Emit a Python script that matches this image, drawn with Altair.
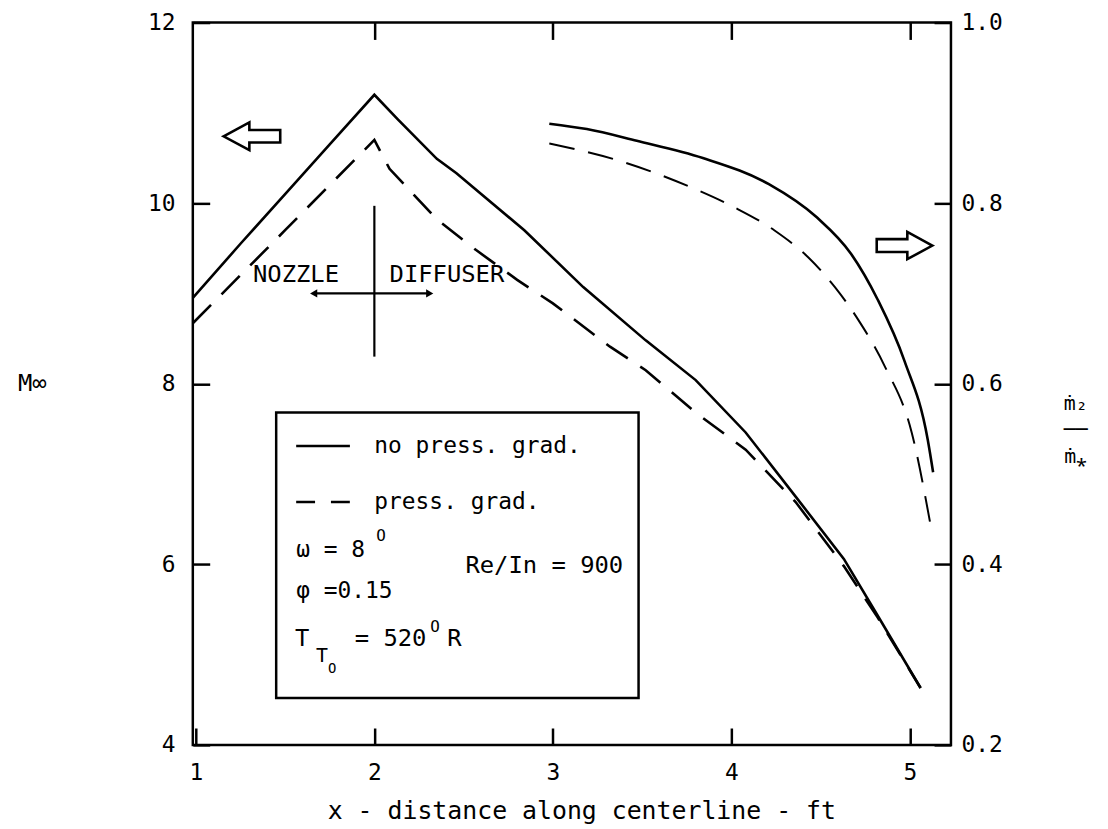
import altair as alt
import pandas as pd

FONT = "DejaVu Sans Mono"

# ---- data ----
# Free-stream Mach number (left axis)
x_m_solid = [0.983, 1.25, 1.5, 1.75, 2.0, 2.13, 2.35, 2.46, 2.84, 3.17, 3.52, 3.80, 4.08, 4.36, 4.63, 4.82, 5.06]
m_solid = [8.95, 9.55, 10.1, 10.65, 11.2, 10.93, 10.49, 10.33, 9.70, 9.07, 8.48, 8.04, 7.46, 6.75, 6.06, 5.43, 4.63]
x_m_dash = [0.983, 1.5, 2.0, 2.085, 2.35, 2.57, 2.80, 3.00, 3.32, 3.52, 3.80, 4.08, 4.36, 4.63, 4.82, 5.06]
m_dash = [8.67, 9.70, 10.70, 10.38, 9.82, 9.48, 9.15, 8.89, 8.41, 8.15, 7.68, 7.27, 6.69, 5.98, 5.41, 4.63]

# Mass-flow ratio (right axis)
x_r_solid = [2.98, 3.19, 3.47, 3.84, 4.21, 4.48, 4.67, 4.82, 4.97, 5.10, 5.13]
r_solid = [0.888, 0.882, 0.869, 0.850, 0.821, 0.784, 0.744, 0.693, 0.625, 0.538, 0.502]
x_r_dash = [2.98, 3.37, 3.78, 4.02, 4.24, 4.43, 4.58, 4.71, 4.86, 5.01, 5.12]
r_dash = [0.866, 0.847, 0.817, 0.795, 0.770, 0.740, 0.707, 0.671, 0.619, 0.546, 0.439]

# axes
X_DOMAIN = [0.983, 5.23]
M_DOMAIN = [4, 12]
R_DOMAIN = [0.2, 1.0]
x_ticks = [1, 2, 3, 4, 5]
x_top_ticks = [2, 3, 4, 5]
m_ticks = [4, 6, 8, 10, 12]
r_ticks = [0.2, 0.4, 0.6, 0.8, 1.0]

# annotations (in x / Mach coordinates)
note_text = ["NOZZLE", "DIFFUSER", "no press. grad.", "press. grad.", "ω = 8", "φ =0.15",
             "T", "= 520", "R", "Re/In = 900", "O", "T", "O", "O"]
note_x = [1.32, 2.085, 2.00, 2.00, 1.562, 1.562, 1.556, 1.89, 2.408, 2.51, 2.01, 1.673, 1.74, 2.313]
note_y = [9.20, 9.20, 7.31, 6.69, 6.16, 5.70, 5.17, 5.17, 5.17, 5.98, 6.31, 4.98, 4.84, 5.31]
note_size = [24, 24, 23, 23, 23, 23, 24, 24, 24, 24, 16, 20, 14, 16]

legend_box_x = [1.45, 3.48]
legend_box_m = [4.52, 7.68]
legend_line_x = [1.562, 1.863]
legend_solid_m = 7.31
legend_dash_m = 6.69

divider_x = 2.0
divider_m = [8.30, 9.97]
span_x = [1.66, 2.31]
span_m = 9.0

arrow_left_pos = (1.314, 10.74)
arrow_right_pos = (4.97, 9.53)
ARROW_LEFT = "M -1 0 L -0.09 -0.49 L -0.09 -0.22 L 1 -0.22 L 1 0.22 L -0.09 0.22 L -0.09 0.49 Z"
ARROW_RIGHT = "M 1 0 L 0.1 -0.49 L 0.1 -0.23 L -1 -0.23 L -1 0.23 L 0.1 0.23 L 0.1 0.49 Z"

# ---- scales / axes ----
XS = alt.Scale(domain=X_DOMAIN, nice=False, zero=False)
MS = alt.Scale(domain=M_DOMAIN, nice=False, zero=False)
RS = alt.Scale(domain=R_DOMAIN, nice=False, zero=False)

AX = dict(domain=False, grid=False, tickColor="black", tickWidth=2.5, tickSize=17, offset=-17,
          labelFont=FONT, labelFontSize=23, labelColor="black", titleFont=FONT,
          titleColor="black", titleFontWeight="normal", labelOverlap=False)

bottom_axis = alt.Axis(orient="bottom", values=x_ticks, format="d", labelPadding=17,
                       title="x - distance along centerline - ft", titleFontSize=25,
                       titleX=391, titleY=83, titleAlign="center", titleBaseline="middle", **AX)
top_axis = alt.Axis(orient="top", values=x_top_ticks, labels=False, title=None, **AX)
left_axis = alt.Axis(orient="left", values=m_ticks, format="d", labelPadding=18,
                     title="M∞", titleFontSize=24, titleAngle=0, titleX=-179, titleY=363,
                     titleAlign="center", titleBaseline="middle", **AX)
right_axis = alt.Axis(orient="right", values=r_ticks, format=".1f", labelPadding=10,
                      title=["ṁ₂", "──", "ṁ⁎"], titleFontSize=20, titleLineHeight=27,
                      titleAngle=0, titleX=142, titleY=383, titleAlign="center",
                      titleBaseline="middle", **AX)


def xenc(axis=None, field="x"):
    return alt.X(f"{field}:Q", scale=XS, axis=axis)


def menc(axis=None, field="y"):
    return alt.Y(f"{field}:Q", scale=MS, axis=axis)


def renc(axis=None, field="y"):
    return alt.Y(f"{field}:Q", scale=RS, axis=axis)


m_solid_c = alt.Chart(pd.DataFrame({"x": x_m_solid, "y": m_solid})).mark_line(
    color="black", strokeWidth=2.6).encode(x=xenc(bottom_axis), y=menc(left_axis))
m_dash_c = alt.Chart(pd.DataFrame({"x": x_m_dash, "y": m_dash})).mark_line(
    color="black", strokeWidth=2.6, strokeDash=[26, 15]).encode(x=xenc(), y=menc())
r_solid_c = alt.Chart(pd.DataFrame({"x": x_r_solid, "y": r_solid})).mark_line(
    color="black", strokeWidth=2.6, interpolate="monotone").encode(x=xenc(top_axis), y=renc(right_axis))
r_dash_c = alt.Chart(pd.DataFrame({"x": x_r_dash, "y": r_dash})).mark_line(
    color="black", strokeWidth=2.0, strokeDash=[26, 14], interpolate="monotone").encode(x=xenc(), y=renc())

box_c = alt.Chart(pd.DataFrame({"x": [legend_box_x[0]], "x2": [legend_box_x[1]],
                                "y": [legend_box_m[0]], "y2": [legend_box_m[1]]})).mark_rect(
    fillOpacity=0, stroke="black", strokeWidth=2.5).encode(
    x=xenc(), x2="x2:Q", y=menc(), y2="y2:Q")

leg_solid_c = alt.Chart(pd.DataFrame({"x": [legend_line_x[0]], "x2": [legend_line_x[1]],
                                      "y": [legend_solid_m]})).mark_rule(
    color="black", strokeWidth=2.6).encode(x=xenc(), x2="x2:Q", y=menc())
leg_dash_c = alt.Chart(pd.DataFrame({"x": [legend_line_x[0]], "x2": [legend_line_x[1]],
                                     "y": [legend_dash_m]})).mark_rule(
    color="black", strokeWidth=2.6, strokeDash=[19, 16]).encode(x=xenc(), x2="x2:Q", y=menc())

divider_c = alt.Chart(pd.DataFrame({"x": [divider_x], "y": [divider_m[0]], "y2": [divider_m[1]]})).mark_rule(
    color="black", strokeWidth=2.2).encode(x=xenc(), y=menc(), y2="y2:Q")
span_c = alt.Chart(pd.DataFrame({"x": [span_x[0]], "x2": [span_x[1]], "y": [span_m]})).mark_rule(
    color="black", strokeWidth=2.2).encode(x=xenc(), x2="x2:Q", y=menc())
heads_c = alt.Chart(pd.DataFrame({"x": span_x, "y": [span_m, span_m],
                                  "shape": ["triangle-left", "triangle-right"]})).mark_point(
    filled=True, color="black", size=70, opacity=1).encode(
    x=xenc(), y=menc(), shape=alt.Shape("shape:N", scale=None))

arrow_l_c = alt.Chart(pd.DataFrame({"x": [arrow_left_pos[0]], "y": [arrow_left_pos[1]]})).mark_point(
    shape=ARROW_LEFT, size=3249, filled=False, stroke="black", strokeWidth=2.6, opacity=1).encode(
    x=xenc(), y=menc())
arrow_r_c = alt.Chart(pd.DataFrame({"x": [arrow_right_pos[0]], "y": [arrow_right_pos[1]]})).mark_point(
    shape=ARROW_RIGHT, size=3136, filled=False, stroke="black", strokeWidth=2.6, opacity=1).encode(
    x=xenc(), y=menc())

text_c = alt.Chart(pd.DataFrame({"x": note_x, "y": note_y, "t": note_text, "fs": note_size})).mark_text(
    font=FONT, color="black", align="left", baseline="middle").encode(
    x=xenc(), y=menc(), text="t:N", size=alt.Size("fs:Q", scale=None))

chart = alt.layer(
    m_solid_c, m_dash_c, r_solid_c, r_dash_c, box_c, leg_solid_c, leg_dash_c,
    divider_c, span_c, heads_c, arrow_l_c, arrow_r_c, text_c
).resolve_scale(y="independent").resolve_axis(x="independent", y="independent").properties(
    width=763, height=727,
    padding={"left": 186, "top": 12, "right": 150, "bottom": 80},
    autosize=alt.AutoSizeParams(type="none"),
    background="white",
).configure_view(stroke="black", strokeWidth=2.5)

chart.save("out.html", embed_options={"renderer": "svg", "actions": False})
